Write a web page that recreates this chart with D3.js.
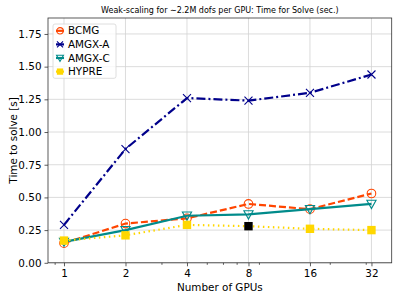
<!DOCTYPE html>
<html>
<head>
<meta charset="utf-8">
<script src="https://cdn.jsdelivr.net/npm/d3@7"></script>
<style>
  body { margin: 0; background: #fff; }
  svg { display: block; font-family: "DejaVu Sans", sans-serif; }
</style>
</head>
<body>
<svg id="chart" width="399" height="299"></svg>
<script>
var gpus = [1, 2, 4, 8, 16, 32];
var bcmg = [0.15, 0.30, 0.34, 0.45, 0.41, 0.53];
var amgxA = [0.29, 0.87, 1.26, 1.24, 1.30, 1.44];
var amgxC = [0.16, 0.25, 0.36, 0.37, 0.41, 0.45];
var hypre = [0.17, 0.21, 0.29, 0.28, 0.26, 0.25];
var yTicks = [0, 0.25, 0.5, 0.75, 1.0, 1.25, 1.5, 1.75];
var xMinor = [0.9, 3, 5, 6, 7, 9, 20, 30];
var titleText = 'Weak-scaling for \u223c2.2M dofs per GPU: Time for Solve (sec.)';

var series = [
    {name: 'BCMG', values: bcmg, color: '#ff4500', dash: '7,3', marker: 'circle'},
    {name: 'AMGX-A', values: amgxA, color: '#00008b', dash: '9,3,2,3', marker: 'x'},
    {name: 'AMGX-C', values: amgxC, color: '#008b8b', dash: null, marker: 'tri'},
    {name: 'HYPRE', values: hypre, color: '#ffd700', dash: '1.5,3.5', marker: 'square'}
];

var margin = {left: 48, right: 7.3, top: 18, bottom: 36.2};
var width = 399, height = 299;
var svg = d3.select('#chart');

var x = d3.scaleLog().domain([0.835, 40.2]).range([margin.left, width - margin.right]);
var y = d3.scaleLinear().domain([0, 1.872]).range([height - margin.bottom, margin.top]);

// grid
var grid = svg.append('g');
grid.selectAll('.gx').data(gpus).enter().append('line')
    .attr('x1', function (d) { return x(d); }).attr('x2', function (d) { return x(d); })
    .attr('y1', y.range()[0]).attr('y2', y.range()[1])
    .attr('stroke', '#d3d3d3').attr('stroke-width', 0.8);
grid.selectAll('.gy').data(yTicks).enter().append('line')
    .attr('y1', function (d) { return y(d); }).attr('y2', function (d) { return y(d); })
    .attr('x1', x.range()[0]).attr('x2', x.range()[1])
    .attr('stroke', '#d3d3d3').attr('stroke-width', 0.8);

// axes
var xAxis = d3.axisBottom(x).tickValues(gpus).tickFormat(d3.format('d')).tickSize(3.5).tickPadding(3);
var xMinorAxis = d3.axisBottom(x).tickValues(xMinor).tickFormat('').tickSize(2);
var yAxis = d3.axisLeft(y).tickValues(yTicks).tickFormat(d3.format('.2f')).tickSize(3.5).tickPadding(3);

function styleAxis(g) {
    g.select('.domain').remove();
    g.selectAll('line').attr('stroke', '#333').attr('stroke-width', 0.8);
    g.selectAll('text').attr('fill', '#000').style('font-size', '10.4px').style('font-family', '"DejaVu Sans", sans-serif');
}

svg.append('g').attr('transform', 'translate(0,' + y.range()[0] + ')').call(xMinorAxis).call(styleAxis);
svg.append('g').attr('transform', 'translate(0,' + y.range()[0] + ')').call(xAxis).call(styleAxis);
svg.append('g').attr('transform', 'translate(' + x.range()[0] + ',0)').call(yAxis).call(styleAxis);

// frame
svg.append('rect')
    .attr('x', x.range()[0]).attr('y', y.range()[1])
    .attr('width', x.range()[1] - x.range()[0]).attr('height', y.range()[0] - y.range()[1])
    .attr('fill', 'none').attr('stroke', '#333').attr('stroke-width', 0.8);

// lines
var line = d3.line()
    .x(function (d) { return x(d[0]); })
    .y(function (d) { return y(d[1]); });

function drawMarker(g, type, cx, cy, color, fill, k) {
    k = k || 1;
    if (type === 'circle') {
        g.append('circle').attr('cx', cx).attr('cy', cy).attr('r', 4.3 * k)
            .attr('fill', 'none').attr('stroke', color).attr('stroke-width', 1.1);
    } else if (type === 'x') {
        var s = 4 * k;
        g.append('path').attr('d', 'M' + (cx - s) + ',' + (cy - s) + 'L' + (cx + s) + ',' + (cy + s) +
            'M' + (cx - s) + ',' + (cy + s) + 'L' + (cx + s) + ',' + (cy - s))
            .attr('stroke', color).attr('stroke-width', 1.1).attr('fill', 'none');
    } else if (type === 'tri') {
        var t = 4.6 * k;
        g.append('path').attr('d', 'M' + (cx - t) + ',' + (cy - t * 0.8) + 'L' + (cx + t) + ',' + (cy - t * 0.8) +
            'L' + cx + ',' + (cy + t) + 'Z')
            .attr('fill', 'none').attr('stroke', color).attr('stroke-width', 1.1);
    } else if (type === 'square') {
        var q = 4.2 * k;
        g.append('rect').attr('x', cx - q).attr('y', cy - q).attr('width', 2 * q).attr('height', 2 * q)
            .attr('fill', fill || color);
    }
}

series.forEach(function (s) {
    var pts = gpus.map(function (g, i) { return [g, s.values[i]]; });
    var g = svg.append('g');
    g.append('path').datum(pts).attr('d', line)
        .attr('fill', 'none').attr('stroke', s.color).attr('stroke-width', 2.2)
        .attr('stroke-dasharray', s.dash);
    pts.forEach(function (p, i) {
        var fill = (s.name === 'HYPRE' && gpus[i] === 8) ? '#000' : null;
        drawMarker(g, s.marker, x(p[0]), y(p[1]), s.color, fill);
    });
});

// legend
var leg = svg.append('g').attr('transform', 'translate(53,24)');
leg.append('rect').attr('width', 63).attr('height', 54.3).attr('rx', 2)
    .attr('fill', 'rgba(255,255,255,0.8)').attr('stroke', '#d6d6d6').attr('stroke-width', 0.8);
series.forEach(function (s, i) {
    var ly = 6.8 + i * 13.6;
    var lg = leg.append('g');
    lg.append('line').attr('x1', 3).attr('x2', 11).attr('y1', ly).attr('y2', ly)
        .attr('stroke', s.color).attr('stroke-width', 2.2);
    drawMarker(lg, s.marker, 7, ly, s.color, null, 0.75);
    lg.append('text').attr('x', 15).attr('y', ly).attr('dy', '0.35em')
        .style('font-size', '10.4px').text(s.name);
});

// labels
svg.append('text').attr('x', (x.range()[0] + x.range()[1]) / 2).attr('y', 13)
    .attr('text-anchor', 'middle').style('font-size', '8px').text(titleText);
svg.append('text').attr('x', (x.range()[0] + x.range()[1]) / 2).attr('y', 291)
    .attr('text-anchor', 'middle').style('font-size', '10.4px').text('Number of GPUs');
svg.append('text')
    .attr('transform', 'translate(17,' + ((y.range()[0] + y.range()[1]) / 2) + ') rotate(-90)')
    .attr('text-anchor', 'middle').style('font-size', '10.4px').text('Time to solve [s]');
</script>
</body>
</html>
